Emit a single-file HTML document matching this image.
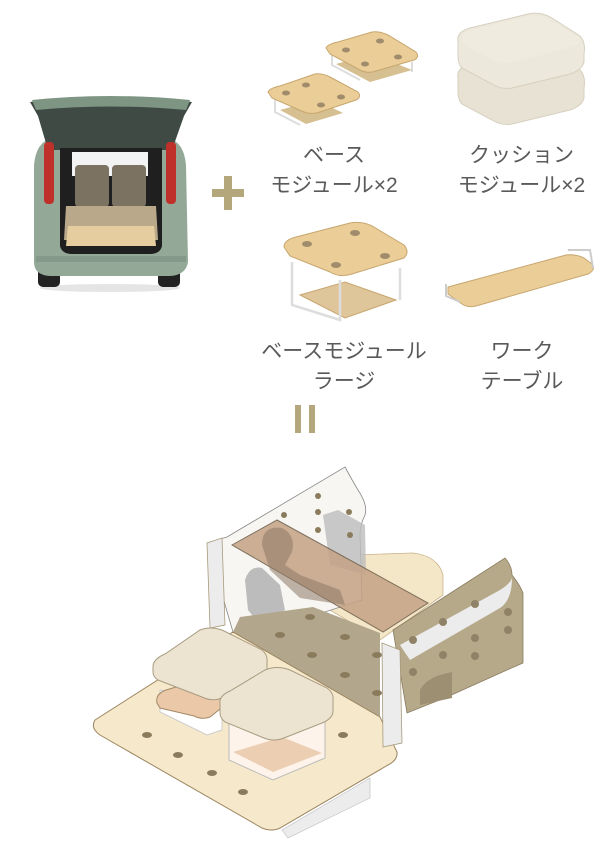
<!DOCTYPE html>
<html><head><meta charset="utf-8"><style>
html,body{margin:0;padding:0;background:#fff;}
body{width:603px;height:852px;position:relative;overflow:hidden;font-family:"Liberation Sans","Noto Sans CJK JP",sans-serif;}
.t{position:absolute;color:#5a5a5a;font-size:21px;text-align:center;line-height:30px;white-space:nowrap;}
</style></head><body>
<svg width="603" height="852" style="position:absolute;left:0;top:0">
<!-- car -->
<g>
<ellipse cx="110" cy="288" rx="70" ry="4" fill="#ccc" opacity=".5"/>
<rect x="38" y="255" width="22" height="32" rx="5" fill="#222"/>
<rect x="158" y="255" width="22" height="32" rx="5" fill="#222"/>
<path d="M34 165 Q36 142 52 138 L168 138 Q184 142 186 165 L188 262 Q186 275 170 276 L50 276 Q34 275 34 262 Z" fill="#94a897"/>
<path d="M30 102 Q110 92 192 102 L184 116 L172 150 L48 150 L38 116 Z" fill="#3f4a44"/>
<path d="M32 100 Q110 92 190 100 L186 110 Q110 103 36 110 Z" fill="#7f9584"/>
<rect x="44" y="142" width="10" height="62" rx="4" fill="#c0302a"/>
<rect x="166" y="142" width="10" height="62" rx="4" fill="#c0302a"/>
<path d="M60 148 L162 148 L162 246 Q160 254 150 254 L72 254 Q62 254 60 246 Z" fill="#1f1f1f"/>
<rect x="72" y="152" width="76" height="24" fill="#f3f3f3"/>
<rect x="75" y="165" width="34" height="42" rx="4" fill="#7b7262"/>
<rect x="112" y="165" width="34" height="42" rx="4" fill="#7b7262"/>
<path d="M66 206 L156 206 L158 240 L64 240 Z" fill="#b9a98a"/>
<path d="M68 226 L154 226 L156 246 L66 246 Z" fill="#e6cd9f"/>
<rect x="36" y="256" width="150" height="6" fill="#84998a"/>
</g>
<!-- plus -->
<rect x="212" y="189" width="32" height="8" fill="#b5a77c"/>
<rect x="224" y="176" width="8" height="34" fill="#b5a77c"/>
<!-- equals (vertical) -->
<rect x="295" y="405" width="6" height="28" fill="#b5a77c"/>
<rect x="309" y="405" width="6" height="28" fill="#b5a77c"/>
<!-- base modules -->
<g stroke="#ddd" stroke-width="2" fill="none">
<path d="M275 97 L275 112 L300 125 M318 118 L318 105"/>
<path d="M332 52 L332 65 L360 80 M412 62 L412 72"/>
</g>
<path d="M280 110 L316 100 L343 113 L306 124 Z" fill="#d6bf91"/>
<path d="M336 64 L372 54 L412 70 L370 82 Z" fill="#d6bf91"/>
<path d="M268 92 Q270 88 280 86 L315 74 Q322 73 330 77 L358 92 Q362 97 356 100 L320 112 Q312 115 304 112 L272 98 Z" fill="#ebcd98" stroke="#c7a66f"/>
<path d="M326 48 Q328 44 338 42 L372 32 Q380 31 388 35 L416 52 Q420 57 414 60 L376 71 Q368 74 360 70 L330 54 Z" fill="#ebcd98" stroke="#c7a66f"/>
<g fill="#a08c6c"><ellipse cx="286" cy="93" rx="4" ry="2.5"/><ellipse cx="306" cy="85" rx="4" ry="2.5"/><ellipse cx="341" cy="97" rx="4" ry="2.5"/><ellipse cx="321" cy="105" rx="4" ry="2.5"/>
<ellipse cx="346" cy="50" rx="4" ry="2.5"/><ellipse cx="380" cy="41" rx="4" ry="2.5"/><ellipse cx="398" cy="57" rx="4" ry="2.5"/><ellipse cx="365" cy="64" rx="4" ry="2.5"/></g>
<!-- cushions -->
<path d="M458 78 Q456 68 470 64 L528 48 Q540 45 552 52 L580 70 Q586 76 584 88 L584 98 Q582 106 570 110 L512 124 Q502 126 492 120 L462 104 Q458 100 458 92 Z" fill="#e7e2d3" stroke="#d6d0bf"/>
<path d="M458 42 Q456 32 470 28 L528 14 Q540 11 552 18 L580 36 Q586 42 584 54 L584 62 Q582 70 570 74 L512 88 Q502 90 492 84 L462 68 Q458 64 458 56 Z" fill="#ece8db" stroke="#d6d0bf"/>
<path d="M462 40 Q462 32 474 29 L528 16 Q540 14 550 20 L578 37 Q582 42 576 46 L514 62 Q504 65 494 60 L466 46 Z" fill="#efebdf"/>
<!-- large base module -->
<path d="M300 295 L345 282 L396 300 L345 318 Z" fill="#dfc59a" stroke="#c7a66f"/>
<g stroke="#ddd" stroke-width="2.5" fill="none">
<path d="M292 262 L292 305 L340 320 L340 280"/>
<path d="M400 268 L400 300"/>
</g>
<path d="M284 247 Q284 240 296 237 L350 223 Q362 221 372 226 L404 245 Q410 252 404 258 L352 274 Q340 278 330 272 L290 256 Z" fill="#ebcd98" stroke="#c7a66f"/>
<g fill="#a08c6c"><ellipse cx="307" cy="244" rx="5" ry="3"/><ellipse cx="355" cy="233" rx="5" ry="3"/><ellipse cx="385" cy="256" rx="5" ry="3"/><ellipse cx="336" cy="265" rx="5" ry="3"/></g>
<!-- work table -->
<path d="M448 287 L566 255 Q576 254 584 258 L592 264 Q596 270 588 274 L476 306 Q468 308 462 304 L448 294 Z" fill="#ebcd98" stroke="#c7a66f"/>
<path d="M568 250 L590 250 L593 268 M446 284 L446 296 L460 302" stroke="#ccc" stroke-width="2" fill="none"/>

<!-- ===== big illustration ===== -->
<!-- back floor (light) -->
<path d="M330 560 L353 555 L413 553 Q438 556 443 575 L443 595 L380 640 L330 610 Z" fill="#f4e7c8" stroke="#c9b48c" stroke-width=".8"/>
<!-- back partition wall -->
<path d="M207 543 L227 537 L345 467 Q352 480 358 490 Q368 505 365 515 Q360 525 360 535 L362 600 L300 620 L233 632 Z" fill="#f7f6f3" stroke="#888" stroke-width=".8"/>
<path d="M323 515 L338 510 L365 525 L366 575 L330 565 Z" fill="#bdbdbd" opacity=".8"/>
<path d="M245 580 Q250 565 262 568 L280 585 L285 610 L260 625 L248 610 Z" fill="#aeaeae" opacity=".8"/>
<g fill="#8a7b5c"><circle cx="318" cy="496" r="3"/><circle cx="318" cy="512" r="3"/><circle cx="349" cy="512" r="3"/><circle cx="350" cy="535" r="3"/><circle cx="284" cy="515" r="3"/><circle cx="318" cy="530" r="3"/></g>
<!-- seen-through floor (grey brown) -->
<path d="M233 632 L240 617 L313 607 L380 633 L380 717 Z" fill="#b2a68c"/>
<!-- side panel -->
<path d="M393 630 L505 558 Q512 566 512 575 Q520 585 523 593 L523 663 L507 670 L447 697 L407 713 Z" fill="#b6a98a" stroke="#8a7c60" stroke-width=".8"/>
<path d="M400 645 L500 590 Q510 584 512 578 Q512 600 500 608 L410 660 Z" fill="#ececec"/>
<g fill="#8f8266"><circle cx="413" cy="640" r="4"/><circle cx="443" cy="622" r="4"/><circle cx="475" cy="604" r="4"/><circle cx="508" cy="612" r="4"/><circle cx="508" cy="630" r="4"/><circle cx="443" cy="655" r="4"/><circle cx="475" cy="638" r="4"/><circle cx="475" cy="656" r="4"/><circle cx="413" cy="672" r="4"/></g>
<path d="M420 705 L420 690 Q425 680 440 675 L452 672 L452 698 Z" fill="#9c8f72"/>
<!-- front floor -->
<path d="M95 720 L233 632 L380 717 L397 752 Q398 760 388 765 L280 828 Q272 832 262 828 L100 735 Q90 728 95 720 Z" fill="#f6e9cb" stroke="#9b8560" stroke-width="1"/>
<path d="M282 830 L370 778 L370 798 L288 838 Z" fill="#ececec" stroke="#bbb" stroke-width=".6"/>
<g fill="#8a7b5c"><ellipse cx="147" cy="735" rx="5" ry="3"/><ellipse cx="178" cy="755" rx="5" ry="3"/><ellipse cx="212" cy="773" rx="5" ry="3"/><ellipse cx="243" cy="792" rx="5" ry="3"/><ellipse cx="343" cy="735" rx="5" ry="3"/>
<ellipse cx="280" cy="635" rx="5" ry="3"/><ellipse cx="345" cy="637" rx="5" ry="3"/><ellipse cx="312" cy="655" rx="5" ry="3"/><ellipse cx="345" cy="675" rx="5" ry="3"/><ellipse cx="377" cy="655" rx="5" ry="3"/><ellipse cx="377" cy="693" rx="5" ry="3"/><ellipse cx="310" cy="617" rx="5" ry="3"/></g>
<!-- partition front strips -->
<path d="M207 543 L222 538 L225 625 L210 628 Z" fill="#ececec" stroke="#a89a7a" stroke-width=".8"/>
<path d="M382 643 L400 650 L402 743 L383 747 Z" fill="#ececec" stroke="#a89a7a" stroke-width=".8"/>
<!-- shelf -->
<path d="M232 545 L277 520 L428 603 L383 632 Z" fill="#c4a284" opacity=".85" stroke="#6a5a45"/>
<path d="M262 545 Q262 525 282 528 Q296 535 292 552 L285 565 L300 575 L340 590 L345 605 L300 598 L270 570 Z" fill="#8e7964" opacity=".55"/>
<!-- cushion 1 stack -->
<path d="M160 690 L160 712 L207 735 L222 730 L222 700 Z" fill="#fff" stroke="#ccc"/>
<path d="M157 703 Q155 694 166 690 L200 680 L235 697 L210 717 Q202 720 194 716 L160 708 Z" fill="#ebc9a8" stroke="#a38a6a"/>
<path d="M153 667 Q153 659 165 654 L200 630 Q210 626 222 630 L262 650 Q268 655 267 662 L267 675 Q266 682 255 686 L222 698 Q212 702 202 697 L158 680 Q153 677 153 672 Z" fill="#ece4d0" stroke="#a99c82"/>
<!-- cushion 2 -->
<path d="M229 720 L229 760 L273 780 L325 758 L325 720 Z" fill="#fdf3ea" stroke="#bbb"/>
<path d="M233 752 L273 772 L322 753 L282 737 Z" fill="#eccfb3"/>
<path d="M220 703 Q219 696 230 691 L265 670 Q277 665 290 670 L327 688 Q334 693 333 700 L333 712 Q332 719 322 723 L284 738 Q274 742 264 738 L225 722 Q220 718 220 713 Z" fill="#ece4d0" stroke="#a99c82"/>
</svg>
<div class="t" style="left:270px;top:141px;width:128px">ベース<br>モジュール×2</div>
<div class="t" style="left:444px;top:141px;width:155px">クッション<br>モジュール×2</div>
<div class="t" style="left:244px;top:337px;width:200px">ベースモジュール<br>ラージ</div>
<div class="t" style="left:462px;top:337px;width:120px">ワーク<br>テーブル</div>
</body></html>
